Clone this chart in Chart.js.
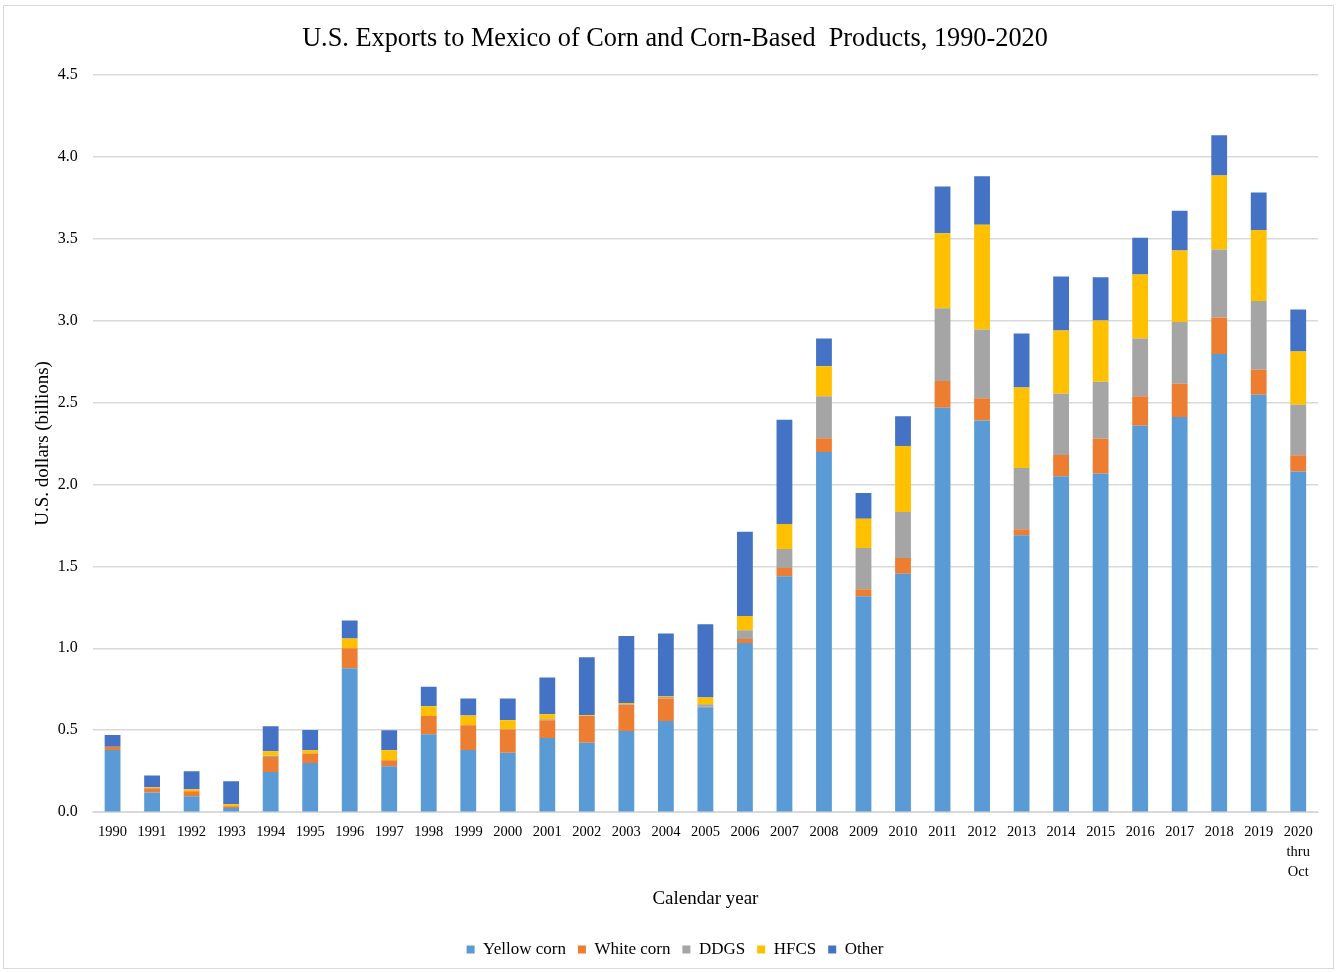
<!DOCTYPE html>
<html>
<head>
<meta charset="utf-8">
<script src="https://cdn.jsdelivr.net/npm/chart.js@4.4.0/dist/chart.umd.min.js"></script>
<style>
  html, body { margin: 0; padding: 0; background: #fff; }
  #wrap { position: absolute; left: 3px; top: 5px; width: 1331px; height: 964px; border: 1px solid #d9d9d9; box-sizing: border-box; }
  #myChart { position: absolute; left: 0; top: 0; }
</style>
</head>
<body>
<div id="wrap"><canvas id="myChart" width="1331" height="964"></canvas></div>
<script>
// setup
const years = ['1990', '1991', '1992', '1993', '1994', '1995', '1996', '1997', '1998', '1999',
  '2000', '2001', '2002', '2003', '2004', '2005', '2006', '2007', '2008', '2009',
  '2010', '2011', '2012', '2013', '2014', '2015', '2016', '2017', '2018', '2019',
  ['2020', 'thru', 'Oct']];

const yellowCorn = [0.38, 0.12, 0.098, 0.026, 0.246, 0.30, 0.878, 0.28, 0.476, 0.38,
  0.362, 0.453, 0.423, 0.496, 0.557, 0.640, 1.032, 1.439, 2.197, 1.318,
  1.455, 2.468, 2.39, 1.69, 2.049, 2.065, 2.358, 2.411, 2.795, 2.547, 2.079];
const whiteCorn = [0.02, 0.026, 0.03, 0.011, 0.091, 0.058, 0.122, 0.037, 0.111, 0.15,
  0.142, 0.108, 0.164, 0.158, 0.136, 0.005, 0.025, 0.051, 0.085, 0.042,
  0.096, 0.162, 0.136, 0.036, 0.13, 0.213, 0.179, 0.203, 0.223, 0.152, 0.098];
const ddgs = [0, 0.003, 0, 0, 0.008, 0, 0, 0, 0, 0,
  0.003, 0.006, 0, 0.005, 0.01, 0.014, 0.053, 0.116, 0.255, 0.252,
  0.28, 0.445, 0.419, 0.374, 0.374, 0.348, 0.353, 0.376, 0.415, 0.419, 0.309];
const hfcs = [0, 0.005, 0.012, 0.012, 0.027, 0.02, 0.06, 0.061, 0.059, 0.06,
  0.054, 0.031, 0.004, 0.007, 0.006, 0.04, 0.087, 0.152, 0.183, 0.178,
  0.403, 0.457, 0.638, 0.491, 0.386, 0.374, 0.39, 0.437, 0.451, 0.433, 0.325];
const other = [0.071, 0.07, 0.11, 0.14, 0.152, 0.124, 0.11, 0.122, 0.12, 0.103,
  0.132, 0.223, 0.354, 0.409, 0.381, 0.447, 0.514, 0.636, 0.17, 0.157,
  0.181, 0.285, 0.297, 0.33, 0.329, 0.264, 0.224, 0.242, 0.246, 0.229, 0.256];

const serif = "'Liberation Serif', 'Times New Roman', serif";

function series(label, values, color) {
  return {
    label: label,
    data: values,
    backgroundColor: color,
    borderWidth: 0,
    barPercentage: 0.4,
    categoryPercentage: 1.0
  };
}

const data = {
  labels: years,
  datasets: [
    series('Yellow corn', yellowCorn, '#5B9BD5'),
    series('White corn', whiteCorn, '#ED7D31'),
    series('DDGS', ddgs, '#A5A5A5'),
    series('HFCS', hfcs, '#FFC000'),
    series('Other', other, '#4472C4')
  ]
};

// config
const config = {
  type: 'bar',
  data: data,
  options: {
    responsive: false,
    animation: false,
    layout: { padding: { left: 28, right: 17, top: 12, bottom: 2 } },
    plugins: {
      title: {
        display: true,
        text: 'U.S. Exports to Mexico of Corn and Corn-Based  Products, 1990-2020',
        color: '#000',
        font: { family: serif, size: 26.3, weight: 'normal' },
        padding: { top: 5, bottom: 20 }
      },
      legend: {
        position: 'bottom',
        labels: {
          color: '#000',
          font: { family: serif, size: 17 },
          boxWidth: 8,
          boxHeight: 8,
          padding: 12
        }
      },
      tooltip: { enabled: false }
    },
    scales: {
      x: {
        stacked: true,
        grid: { display: false },
        border: { color: '#d9d9d9', width: 1 },
        ticks: {
          color: '#000',
          font: { family: serif, size: 14.5, lineHeight: '20px' },
          maxRotation: 0,
          autoSkip: false,
          padding: 2
        },
        title: {
          display: true,
          text: 'Calendar year',
          color: '#000',
          font: { family: serif, size: 19 },
          padding: { top: 3, bottom: 19 }
        }
      },
      y: {
        stacked: true,
        min: 0,
        max: 4.5,
        grid: { color: '#d9d9d9', lineWidth: 1.5, drawTicks: false },
        border: { display: false },
        ticks: {
          stepSize: 0.5,
          color: '#000',
          font: { family: serif, size: 16 },
          padding: 15,
          callback: function (v) { return v.toFixed(1); }
        },
        title: {
          display: true,
          text: 'U.S. dollars (billions)',
          color: '#000',
          font: { family: serif, size: 19 },
          padding: { top: 0, bottom: -12 }
        }
      }
    }
  }
};

// render init block
const myChart = new Chart(
  document.getElementById('myChart'),
  config
);
</script>
</body>
</html>
